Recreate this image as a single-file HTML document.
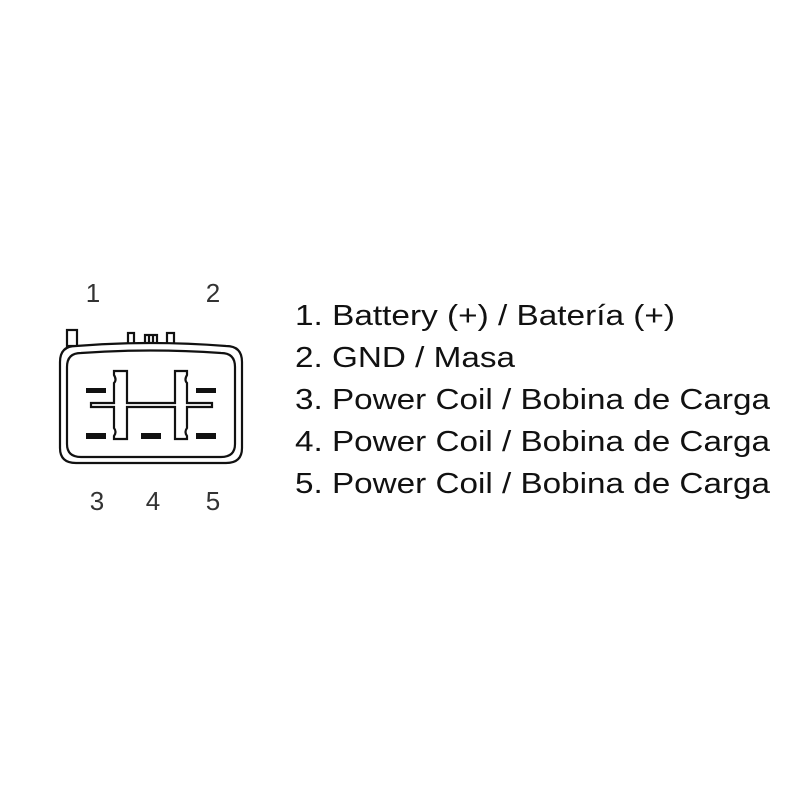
<!DOCTYPE html>
<html><head><style>body{margin:0;background:#fff}svg{display:block}</style></head><body>
<svg width="800" height="800" xmlns="http://www.w3.org/2000/svg">
<rect width="800" height="800" fill="#fff"/>
<g fill="none" stroke="#111" stroke-width="2.2">
<rect x="67" y="330" width="10" height="16" fill="#fff"/>
<rect x="128" y="333" width="6" height="12" fill="#fff"/>
<rect x="145" y="335" width="12" height="10" fill="#fff"/>
<line x1="149" y1="335" x2="149" y2="345"/><line x1="153" y1="335" x2="153" y2="345"/>
<rect x="167" y="333" width="7" height="12" fill="#fff"/>
<path d="M60 362 Q60 346 76 346 Q150 340 226 346 Q242 346 242 362 L242 448 Q242 463 226 463 L76 463 Q60 463 60 448 Z" fill="#fff"/>
<path d="M67 367 Q67 353 81 353 Q150 348 221 353 Q235 353 235 367 L235 444 Q235 457 221 457 L81 457 Q67 457 67 444 Z"/>
<path d="M91 403 L114 403 L114 383 Q117 380 114 375 L114 371 L127 371 L127 403 L175 403 L175 371 L187 371 L187 375 Q184 380 187 383 L187 403 L212 403 L212 407 L187 407 L187 428 Q184 432 187 436 L187 439 L175 439 L175 407 L127 407 L127 439 L114 439 L114 436 Q117 432 114 428 L114 407 L91 407 Z"/>
</g>
<g fill="#111">
<rect x="86" y="388" width="20" height="5"/><rect x="196" y="388" width="20" height="5"/>
<rect x="86" y="433" width="20" height="6"/><rect x="141" y="433" width="20" height="6"/><rect x="196" y="433" width="20" height="6"/>
</g>
<g font-family="Liberation Sans, sans-serif" font-size="26" fill="#333" text-anchor="middle">
<text x="93" y="302">1</text><text x="213" y="302">2</text>
<text x="97" y="510">3</text><text x="153" y="510">4</text><text x="213" y="510">5</text>
</g>
<g font-family="Liberation Sans, sans-serif" font-size="29" fill="#111">
<text x="295" y="325" textLength="380" lengthAdjust="spacingAndGlyphs">1. Battery (+) / Batería (+)</text>
<text x="295" y="367" textLength="220" lengthAdjust="spacingAndGlyphs">2. GND / Masa</text>
<text x="295" y="409" textLength="475" lengthAdjust="spacingAndGlyphs">3. Power Coil / Bobina de Carga</text>
<text x="295" y="451" textLength="475" lengthAdjust="spacingAndGlyphs">4. Power Coil / Bobina de Carga</text>
<text x="295" y="493" textLength="475" lengthAdjust="spacingAndGlyphs">5. Power Coil / Bobina de Carga</text>
</g>
</svg>
</body></html>
